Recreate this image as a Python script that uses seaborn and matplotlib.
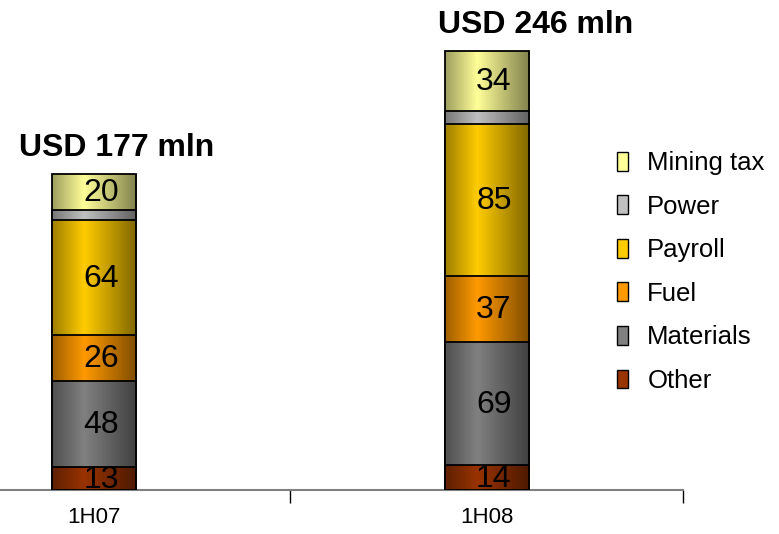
import numpy as np
import pandas as pd
import matplotlib
matplotlib.use("Agg")
import matplotlib.pyplot as plt
import seaborn as sb
from matplotlib.colors import to_rgb
from matplotlib.patches import Rectangle

# ---------------- data ----------------
periods = ["1H07", "1H08"]
components = ["Other", "Materials", "Fuel", "Payroll", "Power", "Mining tax"]
values_1h07 = [13, 48, 26, 64, 6, 20]
values_1h08 = [14, 69, 37, 85, 7, 34]
total_labels = ["USD 177 mln", "USD 246 mln"]
colors = ["#993300", "#808080", "#FF9900", "#FFCC00", "#C0C0C0", "#FFFF99"]
show_value = [True, True, True, True, False, True]

# long table with cumulative tops / bottoms
rows = []
for per, vals in zip(periods, [values_1h07, values_1h08]):
    cum = 0
    for comp, v in zip(components, vals):
        rows.append({"period": per, "component": comp, "value": v,
                     "bottom": cum, "top": cum + v})
        cum += v
df = pd.DataFrame(rows)
totals = df.groupby("period", sort=False)["value"].sum()

sb.set_style("white")
plt.rcParams["font.family"] = ["Liberation Sans", "DejaVu Sans"]
plt.rcParams["text.color"] = "black"
plt.rcParams["xtick.color"] = "black"
plt.rcParams["xtick.labelcolor"] = "black"

fig = plt.figure(figsize=(7.79, 5.34), dpi=100)
ax = fig.add_axes([-0.1316, 0.0824, 1.009, 0.873])


def gradient(color):
    # dark left edge, bright a bit left of centre, dark right edge
    c = np.array(to_rgb(color))
    t = np.linspace(0, 1, 200)
    f = np.interp(t, [0, 0.38, 1], [0.62, 1.0, 0.5])
    return np.clip(c[None, None, :] * f[None, :, None], 0, 1)


# draw tallest cumulative layer first, shorter ones stacked on top
z = 2
for k in range(len(components) - 1, -1, -1):
    sub = df[df["component"] == components[k]]
    n_before = len(ax.patches)
    sb.barplot(data=sub, x="period", y="top", order=periods, color=colors[k],
               width=0.216, edgecolor="black", linewidth=1.3, saturation=1,
               ax=ax, zorder=z + 0.5)
    for p in ax.patches[n_before:]:
        x0, y0 = p.get_x(), p.get_y()
        im = ax.imshow(gradient(colors[k]), extent=[x0, x0 + p.get_width(), y0, y0 + p.get_height()],
                       aspect="auto", zorder=z, interpolation="bilinear")
        im.set_clip_path(p)
        p.set_facecolor("none")
    z += 1

ax.set_xlim(-0.5, 1.5)
ax.set_ylim(0, 261)

# value labels
for i, per in enumerate(periods):
    sub = df[df["period"] == per]
    for k, (_, r) in enumerate(sub.iterrows()):
        if show_value[k]:
            ax.annotate(str(r["value"]), (i, r["bottom"] + r["value"] / 2),
                        xytext=(5, -1), textcoords="offset points",
                        ha="center", va="center", fontsize=23, zorder=20)

# totals above bars
title_dx = [16, 35]
for i, per in enumerate(periods):
    ax.annotate(total_labels[i], (i, totals[per]), xytext=(title_dx[i], 13),
                textcoords="offset points", ha="center", va="baseline",
                fontsize=23, fontweight="bold")

# axes styling
for s in ["left", "right", "top"]:
    ax.spines[s].set_visible(False)
ax.spines["bottom"].set_color("#808080")
ax.spines["bottom"].set_linewidth(1.5)
ax.set_yticks([])
ax.set_ylabel("")
ax.set_xlabel("")
ax.set_xticks([0, 1])
ax.set_xticklabels(periods, fontsize=16)
ax.tick_params(axis="x", which="major", length=0, pad=12)
ax.set_xticks([-0.5, 0.5, 1.5], minor=True)
ax.tick_params(axis="x", which="minor", bottom=True, length=9, width=1,
               color="black", direction="out")

# legend
handles = [Rectangle((0, 0), 1, 1, facecolor=colors[k], edgecolor="black", linewidth=1)
           for k in range(len(components) - 1, -1, -1)]
labels = components[::-1]
fig.legend(handles, labels, loc="upper left", bbox_to_anchor=(607 / 779, 1 - 141 / 534),
           frameon=False, fontsize=18.5, handlelength=0.42, handleheight=0.75,
           handletextpad=0.75, labelspacing=0.76, borderaxespad=0)

fig.savefig("out.png", dpi=100)
